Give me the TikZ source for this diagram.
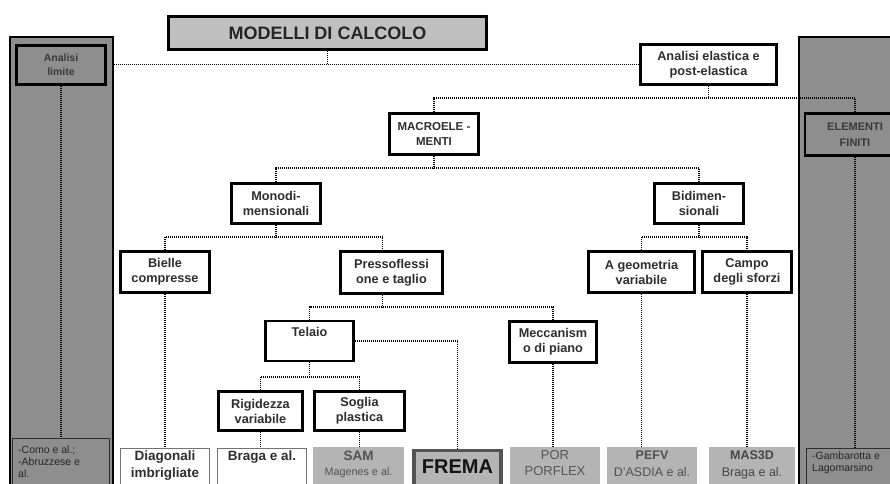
\documentclass[tikz,border=0pt]{standalone}
\usepackage{fontspec}
\setmainfont{Liberation Sans}
\usetikzlibrary{calc}
\definecolor{panel}{HTML}{8E8E8E}
\definecolor{modgray}{HTML}{C0C0C0}
\definecolor{botgray}{HTML}{B4B4B4}
\definecolor{txt}{HTML}{2E2E2E}
\definecolor{ptxt}{HTML}{3A3A3A}
\begin{document}
\begin{tikzpicture}[x=1pt,y=-1pt,
  box/.style={draw=black, line width=2.6pt, fill=white, align=center, text=txt,
    font=\bfseries\fontsize{12.7}{15}\selectfont, inner sep=0pt},
  pbox/.style={box, fill=panel, text=ptxt},
  dot/.style={line width=1.5pt, dash pattern=on 1.1pt off 0.9pt, black},
  panelbox/.style={draw=black, line width=2pt, fill=panel, inner sep=0pt},
  thinbox/.style={draw=txt, line width=0.8pt, inner sep=0pt, anchor=north},
  graybox/.style={fill=botgray, inner sep=0pt, anchor=north},
  btext/.style={align=center, inner sep=0pt, anchor=north, text=txt,
    font=\bfseries\fontsize{13.5}{17}\selectfont},
  ltext/.style={align=left, inner sep=0pt, anchor=north west, text=black!85,
    font=\fontsize{10.5}{12}\selectfont}
]
\useasboundingbox (0,0) rectangle (890,483);
\clip (0,0) rectangle (890,483);
\fill[white] (0,0) rectangle (890,483);

% side panels
\node[panelbox, minimum width=103, minimum height=473] (lpanel) at (61.5,273.5) {};
\node[panelbox, minimum width=121, minimum height=473] (rpanel) at (859.5,273.5) {};

% main boxes
\node[box, fill=modgray, text=black!85, minimum width=318, minimum height=33,
  font=\bfseries\fontsize{18}{20}\selectfont] (modelli) at (327.5,33) {MODELLI DI CALCOLO};
\node[box, minimum width=136, minimum height=40] (elastica) at (708.5,64.5) {Analisi elastica e\\post-elastica};
\node[box, minimum width=89, minimum height=41, font=\bfseries\fontsize{11.5}{14.5}\selectfont] (macro) at (434,134) {MACROELE -\\MENTI};
\node[pbox, minimum width=100, minimum height=42, font=\bfseries\fontsize{11}{16}\selectfont] (ef) at (855,134.5) {ELEMENTI\\FINITI};
\node[pbox, minimum width=89, minimum height=39, font=\bfseries\fontsize{10.5}{14}\selectfont] (alim) at (61,65) {Analisi\\limite};
\node[box, minimum width=89, minimum height=40] (mono) at (276,203.5) {Monodi-\\mensionali};
\node[box, minimum width=89, minimum height=40] (bidi) at (699,203.5) {Bidimen-\\sionali};
\node[box, minimum width=89, minimum height=41] (bielle) at (165,272) {Bielle\\compresse};
\node[box, minimum width=102, minimum height=42] (presso) at (391.5,272.5) {Pressoflessi\\one e taglio};
\node[box, minimum width=106, minimum height=41] (ageo) at (641.5,272) {A geometria\\variabile};
\node[box, minimum width=89, minimum height=41] (campo) at (747,272) {Campo\\degli sforzi};
\node[box, minimum width=88, minimum height=40] (telaio) at (309.5,341) {Telaio\\\phantom{g}};
\node[box, minimum width=87, minimum height=41] (mecc) at (553,342) {Meccanism\\o di piano};
\node[box, minimum width=84, minimum height=39] (rigid) at (260.5,411) {Rigidezza\\variabile};
\node[box, minimum width=90, minimum height=39] (soglia) at (359.5,411) {Soglia\\plastica};

% bottom row
\node[thinbox, fill=panel, minimum width=97, minimum height=60] (como) at (61,437.5) {};
\node[ltext] (comoT) at (18,446) {-Como e al.;\\-Abruzzese e\\al.};
\node[thinbox, fill=panel, minimum width=110, minimum height=60] (gamb) at (861,447.5) {};
\node[ltext] (gambT) at (812,452) {-Gambarotta e\\Lagomarsino};

\node[thinbox, draw=black!55, fill=white, minimum width=89, minimum height=60] (diag) at (165,447.5) {};
\node[btext] (diagT) at (165,451) {Diagonali\\imbrigliate};
\node[thinbox, draw=black!55, fill=white, minimum width=89, minimum height=60] (braga) at (262,447.5) {};
\node[btext] (bragaT) at (262,451) {Braga e al.};

\node[graybox, minimum width=91, minimum height=60] (sam) at (358.5,447) {};
\node[btext, text=black!68] (samA) at (358.5,451) {SAM};
\node[btext, text=black!68, font=\fontsize{10.8}{13}\selectfont] (samB) at (358.5,467) {Magenes e al.};

\node[graybox, draw=black!67, line width=3.5pt, minimum width=87, minimum height=60] (frema) at (457.5,448.5) {};
\node[inner sep=0pt, font=\bfseries\fontsize{20}{22}\selectfont, text=black!92] (fremaT) at (457.5,467) {FREMA};

\node[graybox, minimum width=90, minimum height=60] (por) at (555,447) {};
\node[btext, text=black!66, font=\fontsize{13}{16}\selectfont] (porT) at (555,450) {POR\\PORFLEX};

\node[graybox, minimum width=90, minimum height=60] (pefv) at (652,447) {};
\node[btext, text=black!68, font=\bfseries\fontsize{12.5}{16}\selectfont] (pefvA) at (652,451) {PEFV};
\node[btext, text=black!68, font=\fontsize{12.5}{16}\selectfont] (pefvB) at (652,467) {D'ASDIA e al.};

\node[graybox, minimum width=86, minimum height=60] (mas) at (752,447) {};
\node[btext, text=black!72, font=\bfseries\fontsize{12.5}{16}\selectfont] (masA) at (752,451) {MAS3D};
\node[btext, text=black!72, font=\fontsize{12.5}{16}\selectfont] (masB) at (752,467) {Braga e al.};

% level coordinates
\coordinate (lvB) at (0,98);
\coordinate (lvC) at (0,168);
\coordinate (lvD) at (0,237);
\coordinate (lvE) at (0,307);
\coordinate (lvF) at (0,377);
\coordinate (pN) at ($(presso.north)+(-9,0)$);
\coordinate (pS) at ($(presso.south)+(-9,0)$);

% connectors
\draw[dot] (lpanel.east |- elastica.west) -- (elastica.west);
\draw[dot] (modelli.south) -- (modelli.south |- elastica.west);
\draw[dot] (alim.south) -- (alim.south |- como.north);
\draw[dot] (ef.south) -- (ef.south |- gamb.north);

\draw[dot] (elastica.south) -- (elastica.south |- lvB);
\draw[dot] (macro.north) -- (macro.north |- lvB) -- (ef.north |- lvB) -- (ef.north);

\draw[dot] (macro.south) -- (macro.south |- lvC);
\draw[dot] (mono.north) -- (mono.north |- lvC) -- (bidi.north |- lvC) -- (bidi.north);

\draw[dot] (mono.south) -- (mono.south |- lvD);
\draw[dot] (bielle.north) -- (bielle.north |- lvD) -- (pN |- lvD) -- (pN);

\draw[dot] (bidi.south) -- (bidi.south |- lvD);
\draw[dot] (ageo.north) -- (ageo.north |- lvD) -- (campo.north |- lvD) -- (campo.north);

\draw[dot] (pS) -- (pS |- lvE);
\draw[dot] (telaio.north) -- (telaio.north |- lvE) -- (mecc.north |- lvE) -- (mecc.north);

\draw[dot] (telaio.south) -- (telaio.south |- lvF);
\draw[dot] (rigid.north) -- (rigid.north |- lvF) -- (soglia.north |- lvF) -- (soglia.north);

\draw[dot] (telaio.east) -| (frema.north);
\draw[dot] (bielle.south) -- (bielle.south |- diag.north);
\draw[dot] (rigid.south) -- (rigid.south |- braga.north);
\draw[dot] (soglia.south) -- (soglia.south |- sam.north);
\draw[dot] (mecc.south) -- (mecc.south |- por.north);
\draw[dot] (ageo.south) -- (ageo.south |- pefv.north);
\draw[dot] (campo.south) -- (campo.south |- mas.north);
\end{tikzpicture}
\end{document}
